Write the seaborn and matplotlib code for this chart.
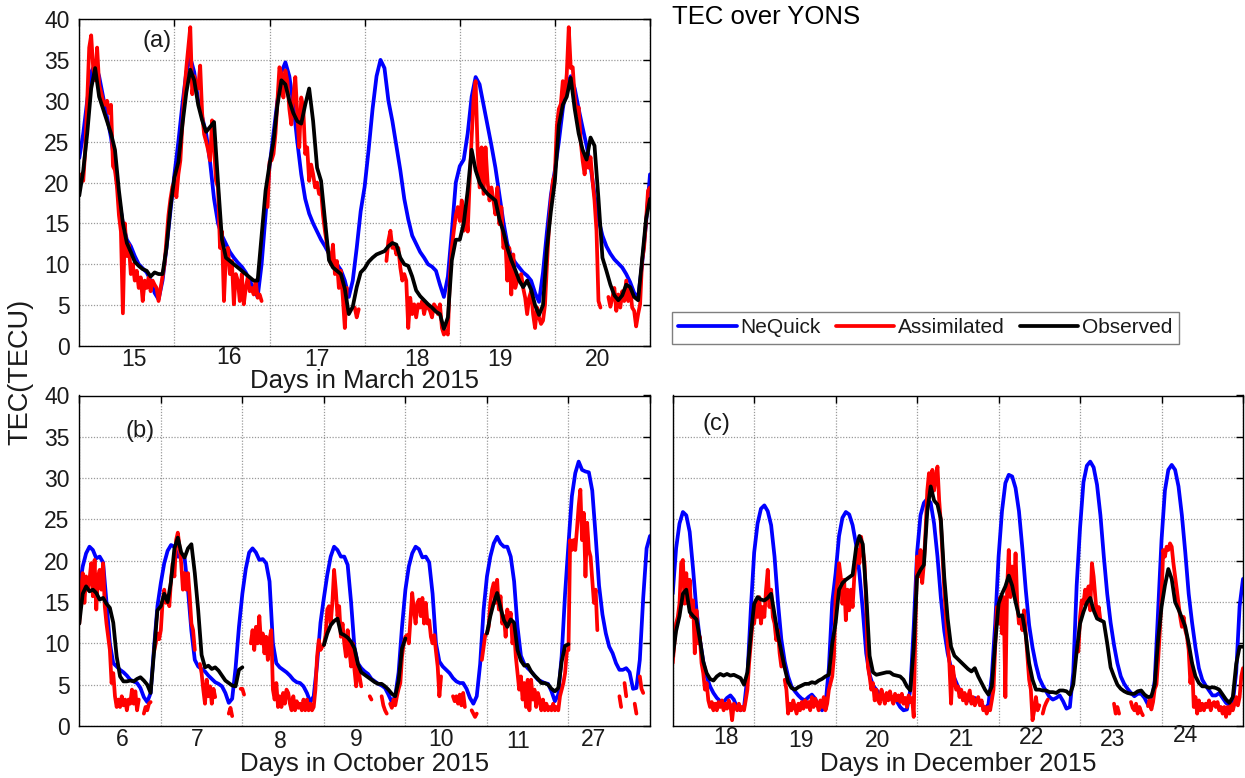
import numpy as np
import pandas as pd
import matplotlib
matplotlib.use("Agg")
import matplotlib.pyplot as plt
import seaborn as sns
from matplotlib.lines import Line2D

nan = np.nan

# ---------------------------------------------------------------- data
# Day labels of the three periods
MAR_DAYS = ["15", "16", "17", "18", "19", "20"]
OCT_DAYS = ["6", "7", "8", "9", "10", "11", "27"]
DEC_DAYS = ["18", "19", "20", "21", "22", "23", "24"]

# NeQuick and observed TEC: hourly values (one row per UT day)
# Assimilated TEC: half-hourly values (one row per UT day), nan = no data

NEQUICK_MAR = [
    [23, 26, 30, 33.5, 34.5, 33, 30.5, 28, 25.5, 22, 18, 15, 13, 12.2, 11, 10, 9.5, 9, 8, 6.5, 5.7, 8, 12, 16.5],
    [21, 25, 29.5, 33.5, 35.3, 33.5, 30, 28, 26, 22.5, 18, 15, 13.5, 12.5, 11.5, 10.8, 10.2, 9.7, 9, 8, 7, 6, 10, 16],
    [22, 26, 30, 33.5, 34.7, 33, 29.5, 25, 21, 18, 16.2, 15, 14, 13, 12.2, 11.3, 10.6, 10, 9.3, 8, 6, 8, 12, 16.5],
    [19.5, 24, 29, 33, 35, 34, 30, 27.5, 24.5, 21.5, 18, 15.5, 13.5, 12.5, 11.5, 10.8, 10, 9.7, 9.2, 7.5, 6, 8.5, 14, 20],
    [22, 22.8, 26, 30.5, 32.9, 32, 29.5, 27, 24.5, 21.8, 18.5, 15.2, 12.5, 11, 10.2, 9.6, 9, 8.6, 8, 6.5, 5.4, 9, 14, 18.5],
    [21.5, 25, 29, 32, 33, 31.5, 29, 26.7, 24.5, 22, 18.5, 15.5, 13.5, 12.2, 11.3, 10.6, 10.1, 9.6, 8.8, 7.8, 6.5, 5.9, 10, 15, 21],
]
OBSERVED_MAR = [
    [18.4, 21.5, 26, 31.5, 34, 30.5, 29, 27.5, 26, 24, 19, 15, 12.6, 11.5, 10.3, 9.8, 9.4, 9.2, 8.5, 9, 8.8, 8.8, 12, 17],
    [20.6, 22.5, 27, 31, 33.8, 32.5, 29.5, 27.6, 26.2, 26.8, 27.4, 20, 13, 10.8, 10.4, 10, 9.6, 9.2, 8.8, 8.4, 8, 8, 13.5, 19],
    [22.2, 25, 29.5, 32.5, 32, 30, 28.5, 27.5, 27.2, 29.5, 31.5, 27.5, 21.8, 20.2, 15.3, 10.5, 9.6, 9.2, 8.8, 7, 3.9, 4.8, 7.2, 9],
    [9.5, 10.3, 10.8, 11.2, 11.4, 11.6, 12.2, 12.6, 12.4, 10.8, 10, 9.8, 8.5, 6.8, 6.1, 5.6, 5.1, 4.7, 4.2, 3.9, 2.1, 3.5, 10.5, 13],
    [13, 15, 19, 24, 21.5, 20, 19.2, 18.6, 18.2, 17.8, 15.5, 14, 12, 10.5, 9.3, 8, 7.2, 8, 6.9, 5, 3.8, 5, 12, 16.5],
    [20.2, 27, 29.5, 30.5, 32.8, 29, 26, 24, 22.8, 25.5, 24.5, 18, 10.8, 9.2, 7.5, 6.2, 5.6, 6.2, 7.5, 7.2, 6, 5.6, 10.5, 15.5, 18],
]
ASSIM_MAR = [
    [19.8, 21, 20.2, 24, 30, 36.5, 38, 34, 32.5, 36.5,
     32, 31, 30, 29.5, 30, 28.5, 29.5, 22, 21.5, 19.5,
     16, 14, 4, 15, 11, 12.4, 8.8, 10, 8, 9.2,
     7.1, 8.4, 5.5, 8, 7.1, 8.4, 6.7, 8, 7.5, 7.1,
     5.5, 7, 8.5, 10, 13, 16, 18, 19.5],
    [20, 18.2, 21, 22.7, 27, 31, 34, 36.5, 39, 30.8,
     33, 32, 31.5, 34.3, 28.4, 25.9, 25, 24, 22.7, 27.6,
     24.3, 20.2, 19.4, 12, 14, 5.5, 11.2, 12, 8.8, 10.4,
     5.1, 8.8, 8, 5.5, 8.8, 5.1, 7.1, 8.4, 6.7, 7.1,
     6.3, 8, 5.9, 6.3, 5.5, nan, nan, 17],
    [22.5, 22.7, 23.5, 26, 30, 34.1, 33.3, 30.4, 33.7, 32.4,
     29, 27.1, 30.4, 32.9, 28.4, 24.3, 30.4, 29.2, 23.5, 24.3,
     20.2, 22.2, 21, 19.4, 20, 18.6, 19, 16, 14, 12.4,
     11.2, 10, 12.4, 8.8, 10.4, 7.1, 9.2, 5.9, 2.2, 7.1,
     nan, nan, nan, 4.7, 3.5, 4.5, nan, nan],
    [nan, nan, nan, nan, nan, nan, nan, nan, nan, nan,
     nan, 10.4, 12.9, 14.1, 12, 12.4, 11.2, 12, 9.6, 8,
     8.8, 8, 2.2, 5.9, 3.9, 5.1, 3.5, 5.1, 4.7, 5.5,
     3.9, 5.1, 4.7, 4.3, 3.5, 5.1, 4.7, 3.9, 5.1, 2.2,
     1.4, 1.8, 1.4, 8.4, 12, 14.1, 16, 17],
    [15.3, 17.8, 14.1, 17, 14, 20.2, 25.5, 30.4, 32.4, 24,
     19.4, 24.3, 18.6, 24.3, 20.2, 17.8, 19.4, 17.8, 16.1, 19.4,
     14.9, 17, 12, 12.9, 8, 12, 6.3, 11.2, 7.1, 8,
     8.4, 8.8, 7.1, 5.9, 3.9, 5.9, 6.7, 3.9, 2.2, 4.7,
     3.5, 2.7, 3.1, 5, 10, 14.5, 17.8, 20.2],
    [21, 27, 29, 29.6, 32.4, 30.4, 33.3, 39, 34, 34.1,
     30.4, 28.4, 29.2, 25.1, 22.7, 21, 23.5, 21.8, 23.1, 20.2,
     17.8, 14.1, 5.5, 4.7, nan, nan, nan, 6, 4.8, 5.9,
     7.1, 4.3, 6.3, 4.7, 6.7, 5.5, 8, 5.5, 7.1, 4.7,
     4.3, 2.4, 3.9, 5.1, 10.4, 12, 15.3, 19, 19.4],
]

NEQUICK_OCT = [
    [16.5, 19.3, 20.9, 21.7, 21.3, 20.3, 20.5, 19.8, 15, 10, 7.6, 7.2, 6.8, 6.5, 6.1, 5.6, 5.4, 5.2, 4.6, 3.5, 2.9, 4, 9.5, 14.5],
    [17.3, 19.7, 21.2, 21.9, 21.7, 20.5, 20.5, 20.3, 16.5, 11.5, 8, 7.2, 6.9, 6.6, 6.1, 5.7, 5.3, 5.1, 4.8, 4, 2.8, 3.3, 7, 12],
    [16, 19, 21, 21.5, 21, 20.1, 20.2, 19.7, 17.5, 10, 7.6, 7.1, 6.8, 6.5, 6.1, 5.6, 5.3, 5.2, 4.8, 4, 2.9, 3.6, 7.5, 12.5],
    [15.5, 18.3, 20.5, 21.7, 21.3, 20.5, 20.5, 19.5, 15, 9.5, 7.6, 7, 6.6, 6.3, 5.7, 5.4, 5.1, 4.9, 4.6, 3.8, 2.9, 3.6, 6.5, 12],
    [16.5, 19.3, 20.9, 21.7, 21.4, 20.4, 20.5, 19.8, 16, 10, 7.8, 7.2, 6.8, 6.4, 5.8, 5.4, 5.2, 5.2, 4.5, 3.4, 2.7, 3.6, 7.5, 14],
    [18.1, 20.5, 22.1, 22.9, 22.1, 21.7, 21.7, 20.5, 17.5, 12, 8.5, 7.5, 7, 6.6, 6.1, 5.6, 5.4, 5.2, 5.1, 4.2, 3, 3.8, 8.5, 16],
    [22, 27.8, 30.6, 32, 31, 30.8, 30.7, 28.5, 23, 17, 13.5, 11.2, 9.6, 8.8, 7.6, 6.8, 6.8, 7, 6.5, 4.5, 4.6, 8, 15.5, 21.5, 23],
]
OBSERVED_OCT = [
    [12.4, 16, 16.9, 16.3, 16.5, 16.1, 15.3, 15.5, 14.8, 14.3, 12.5, 8.4, 6, 5.4, 5.4, 5.5, 5.4, 5.7, 5.9, 5.5, 5, 4, 9, 14],
    [14.5, 16, 15, 17.5, 21.5, 22.8, 21, 20.4, 21.5, 22, 18.5, 14, 8.6, 7.1, 7.3, 6.9, 7.1, 6.7, 6.1, 5.5, 5.2, 4.9, 4.8, 6.8],
    [7.1] + [nan] * 23,
    [9.8, 11.2, 12.2, 12.7, 13, 11.2, 11, 10.7, 10.2, 9.4, 7.5, 6.5, 6.2, 5.9, 5.6, 5.3, 5.1, 5.1, 4.8, 4.4, 3.9, 3.6, 5.5, 9.4],
    [10.6] + [nan] * 23,
    [11.2, 13.3, 14.9, 16.1, 14.3, 12.8, 12, 12.9, 12.5, 9.2, 7.9, 7.3, 7.4, 6.6, 6.1, 5.7, 5.2, 5.2, 5, 4.5, 4.2, 4.6, 7.8, 9.7],
    [9.9] + [nan] * 23,
]
ASSIM_OCT = [
    [12.4, 16.5, 18.5, 14.9, 18.1, 16.5, 17.7, 19.7, 15.7, 20.1,
     14.1, 18.1, 18.9, 16.5, 19.7, 14.5, 12.4, 10.8, 9.2, 5.2,
     6.4, 3.6, 2.3, 3.2, 2.3, 3.6, 2.5, 3.2, 1.9, 3.2,
     2.7, 4.4, 2.7, 4.2, 1.9, 3.2, nan, nan, 1.5, 2.3,
     1.9, 2.7, 2.9, nan, 9, 10, 11.2, 10.5],
    [11.6, 14.9, 16.5, 14.9, 15.7, 14.5, 17.7, 19.7, 18.1, 22.5,
     23.4, 21.7, 19.7, 16.5, 18.5, 16.5, 18.5, 15.7, 12.4, 11.6,
     9.2, nan, nan, 7.5, 6.4, 4.4, 2.7, 5.6, 3.6, 4.8,
     2.7, 4.5, 3.5, nan, nan, nan, nan, nan, nan, nan,
     1.5, 2.2, 1.2, nan, nan, nan, nan, 4.5],
    [4.5, 3.8, nan, nan, nan, 10, 11.6, 9.2, 12, 10,
     13.3, 10, 11.2, 8.8, 10.8, 8, 10.5, 11.6, 4.4, 3.2,
     5.2, 2.3, 3.6, 2.3, 4, 2.7, 4.4, 4, 2.7, 1.9,
     3.6, 1.9, 3, 2.2, 2.7, 1.9, 3.2, 1.9, 3.2, 1.9,
     2.7, 1.9, 2.3, 4.4, 8.4, 10.4, 9.2, 9.6],
    [9.8, 11, 14.1, 14.5, 12.4, 14.9, 18.9, 16.5, 13.3, 14.5,
     10.8, 12.4, 10, 8.4, 11.6, 9.2, 7.2, 10, 6.8, 4.8,
     7.5, 6, 4.8, nan, nan, nan, nan, 3.6, 3.2, nan,
     nan, nan, nan, nan, 3.6, 2.5, 1.9, 1.5, nan, 2.7,
     2.2, 3.2, 2.5, 3.6, 4.5, 5.2, 8.4, 10],
    [10.8, 11, 10, 13, 16.1, 14, 12.4, 14.9, 15.3, 13.3,
     15.5, 12.4, 14.9, 12.4, 12.8, 10.8, 10, 11, 9, 7.2,
     3.6, 6, nan, nan, nan, nan, nan, nan, 3.6, 3,
     3.6, 2.7, 3.8, 2.5, 4, 2.3, nan, nan, nan, 1.9,
     1.5, 1.1, 1.5, nan, nan, 8, 9.5, 11],
    [11.2, 12, 14.9, 16.5, 17.3, 14.9, 17.7, 14.1, 15.7, 12.4,
     13.3, 10.8, 14.1, 12.4, 13.7, 10, 11.6, 8.4, 6.4, 4.4,
     6, 3.2, 5.2, 2.3, 5.6, 1.9, 5.6, 3.2, 4.4, 2.3,
     4, 3.2, 1.9, 3.2, 1.9, 2.7, 1.9, 2.3, 1.9, 2.7,
     1.9, 2.3, 1.9, 3.6, 4.4, 5.2, 6.4, 9],
    [9.2, 22.5, 21.3, 22.5, 21.3, 23.8, 26.6, 28.6, 22.5, 25.8,
     18.1, 24.6, 21.3, 20.5, 17.7, 14.9, 16.5, 11.6, nan, nan,
     nan, nan, nan, nan, nan, nan, nan, nan, nan, nan,
     3.6, 2.3, nan, 5.2, 3.6, nan, nan, nan, nan, 2.7,
     1.5, nan, 6, 4.5, 4, nan, nan, nan],
]

NEQUICK_DEC = [
    [16, 21.5, 24.5, 25.9, 25.5, 23.5, 19, 14, 10.5, 7.8, 6, 4.8, 4, 3.4, 3, 2.9, 3.4, 3.7, 3.2, 2.2, 1.9, 2.2, 6, 14],
    [21, 24.5, 26.3, 26.7, 26, 24.3, 20.5, 15, 10.5, 7.8, 6, 4.8, 4.2, 3.7, 3.3, 3.1, 3.5, 3.8, 3.3, 2.3, 1.9, 2.5, 7, 15],
    [18.5, 23, 25.2, 25.9, 25.6, 24.3, 22, 18.5, 14, 8.8, 6.2, 4.9, 4.4, 3.8, 3.4, 3.2, 3.3, 3.5, 3, 2.3, 1.9, 2, 4.4, 12],
    [21, 25.5, 27, 27.5, 27, 24.5, 20.5, 15.5, 11.5, 8.8, 7, 5.8, 4.8, 4, 3.4, 3.1, 3.1, 3.4, 3.1, 2.6, 2.1, 2.6, 6, 12.4],
    [20.5, 26, 29.4, 30.4, 30.2, 28.8, 26, 21.5, 16.5, 12.2, 9.5, 7.4, 5.8, 4.9, 4.2, 3.5, 3.2, 3.4, 3.7, 3, 2.1, 2.3, 6.5, 17],
    [24, 29.5, 31.5, 32, 31.3, 29.2, 25.5, 20.5, 16, 12.5, 9.8, 7.6, 6, 5.1, 4.5, 4, 3.6, 3.9, 3.9, 3.4, 2.6, 2.8, 5.5, 14],
    [22.5, 28.5, 31, 31.6, 31, 29, 25.5, 21, 16, 12.5, 9.5, 7, 5.6, 4.9, 4.3, 3.7, 3.7, 4, 3.4, 2.8, 2.5, 2.8, 6.5, 14.5, 17.8],
]
OBSERVED_DEC = [
    [8.4, 11.5, 13.3, 16, 16.5, 13.8, 13.3, 12.9, 10.5, 7.8, 6.4, 5.7, 5.5, 6, 6.3, 6.1, 6.3, 6.1, 6.2, 6, 5.8, 5, 6.5, 11],
    [14.8, 15.6, 15.3, 15.2, 15.5, 16, 13.5, 11, 9, 7, 5.3, 4.6, 4.4, 4.7, 4.9, 5.1, 5.1, 5.3, 5.2, 5.5, 5.7, 6, 6.2, 10],
    [12.5, 16.5, 17.3, 17.7, 18, 18.3, 21.5, 23, 22, 16, 8.5, 6.5, 6.2, 6.3, 6.4, 6.5, 6.5, 6.2, 6.1, 6, 5.6, 4.8, 4.3, 9.5],
    [18.1, 18.9, 19.5, 26, 29, 27.3, 26.8, 25, 18, 13, 9.6, 8.5, 8.1, 7.7, 7.3, 6.9, 6.6, 7, 6, 5.2, 4.4, 3.8, 4.8, 10],
    [14.8, 16, 16.9, 18.2, 17, 15, 13.3, 13.4, 11, 7.6, 5.6, 4.4, 4.4, 4.3, 4.3, 4.1, 4.1, 4, 4.3, 4.3, 4.2, 3.8, 5, 9],
    [12.4, 13.8, 14.9, 15.5, 14, 13, 12.8, 12.6, 10, 7.1, 6, 5, 4.5, 4.2, 4, 3.9, 3.9, 4.2, 4.3, 3.8, 3.5, 3.6, 5, 10.5],
    [14.4, 17, 19, 17.8, 15, 14.1, 13.1, 12, 10, 7.6, 6, 5.2, 4.8, 4.8, 4.6, 4.7, 4.6, 4.4, 3.8, 3.2, 2.8, 3.5, 7.5, 9.6, 9.6],
]
ASSIM_DEC = [
    [7.6, 10, 12.4, 13.2, 14.8, 19.7, 20.1, 14.8, 18.5, 14.8,
     17.7, 13.2, 15.2, 8.8, 14, 10, 10.8, 7.6, 6.4, 4.4,
     5.2, 3.1, 2.3, 2.9, 1.9, 2.7, 1.9, 2.9, 2.3, 3.1,
     1.9, 2.7, 2.1, 3.1, 2.5, 0.7, 2.7, 2.3, 1.9, 2.7,
     1.9, 2.3, 1.9, 3.1, 4.4, 7.6, 10, 12.4],
    [12.4, 14.8, 13.2, 15.6, 12.4, 14.4, 13.2, 16.5, 18.9, 14.4,
     16.5, 13.2, 12.4, 10.4, 11.6, 8.8, 7.2, nan, 5.6, 4.4,
     1.5, 2.7, 1.9, 3.1, 2.3, 1.5, 2.7, 1.9, 2.9, 2.1,
     3.1, 2.3, 2.9, 1.9, 3.5, 2.3, 3.3, 2.7, 1.9, 3.1,
     2.3, 3.5, 1.9, 2.7, 4.4, 5.2, 6, 8.4],
    [15.6, 17.3, 19.7, 18.1, 14.8, 17.7, 12.8, 16.5, 14, 16.5,
     14.4, 18.1, 20.1, 21.3, 19.7, 22.9, 21.3, 19.7, 14.8, 7.2,
     6, 4.4, 5.2, 3.1, 4.4, 3.1, 2.7, 4.4, 3.5, 2.7,
     4, 3.1, 4.2, 3.3, 2.7, 3.9, 3.1, 3.7, 2.9, 3.9,
     2.7, 3.4, 2.3, 3.7, 2.9, 3.4, 1.1, 12],
    [20.5, 18.1, 21.3, 17.3, 19.7, 23.7, 28.5, 30.6, 29, 31,
     28.5, 30.2, 31.4, 27.3, 24.5, 20.5, 16.5, 13.2, 10, 7.6,
     2.7, 7.2, 5.6, 4.4, 4.8, 3.5, 4.4, 3.1, 4, 2.7,
     3.5, 4.3, 2.7, 3.5, 2.5, 3.1, 3.5, 2.5, 3.1, 1.9,
     2.3, 1.5, 2.3, 1.9, 3.1, 4.4, 9.6, 14.4],
    [12.4, 15.6, 11.2, 15.6, 3.5, 16.5, 21.3, 15.6, 19.3, 16,
     20.9, 14.8, 12.4, 13.2, 11.6, 14, 11.2, 8.4, 5.6, 4.4,
     0.7, 1.9, 3.5, 1.9, 2.5, nan, 1.5, 2.3, 2.8, 3.2,
     nan, nan, nan, nan, nan, nan, nan, nan, nan, nan,
     nan, nan, nan, nan, nan, nan, nan, 9],
    [13.2, 15.2, 14.8, 16.5, 15.2, 16.9, 14, 19.7, 18.1, 15.6,
     13.2, 14.4, 12.8, nan, nan, nan, nan, nan, nan, nan,
     2.7, 1.5, 2.3, 1.5, nan, nan, nan, nan, nan, nan,
     2.9, 2.2, 1.9, 2.7, 1.5, 2.3, 1.7, 1.3, nan, nan,
     2.4, 3.2, 2, 2.9, 4.5, 5, 8, 11.5],
    [15.6, 21.3, 20.5, 21.7, 21.3, 22.1, 21.7, 19.7, 18.1, 16.5,
     14.8, 13.2, 12, 13.2, 11.6, 10.8, 9.2, 5.2, 7.6, 2.3,
     3.5, 1.5, 3.1, 1.9, 2.7, 1.9, 2.7, 2.3, 3.1, 1.9,
     2.7, 2.9, 2.3, 2.9, 1.9, 2.3, 1.5, 2.3, 1.1, 2.3,
     1.5, 2.7, 1.9, 2.7, 3.5, 2.5, 3.5, 6, 7],
]

SERIES = ["NeQuick", "Assimilated", "Observed"]
COLORS = {"NeQuick": "#0000ff", "Assimilated": "#ff0000", "Observed": "#000000"}

# ---------------------------------------------------------------- style
sns.set_theme(style="white", rc={
    "axes.edgecolor": "#000000",
    "axes.linewidth": 1.0,
    "xtick.color": "#000000",
    "ytick.color": "#000000",
    "text.color": "#1a1a1a",
    "axes.labelcolor": "#1a1a1a",
})
plt.rcParams["font.family"] = ["Liberation Sans", "DejaVu Sans"]

W, H = 1245, 778
LW = 2.7
TICK_FS = 16.5
LABEL_FS = 18.5


def to_frame(rows, per_day):
    days, tec = [], []
    for d, row in enumerate(rows):
        for k, v in enumerate(row):
            days.append(d + k / per_day)
            tec.append(v)
    df = pd.DataFrame({"day": days, "tec": tec})
    df["seg"] = df["tec"].isna().cumsum()
    return df.dropna()


def draw_series(ax, rows, per_day, color):
    df = to_frame(rows, per_day)
    sns.lineplot(data=df, x="day", y="tec", units="seg", estimator=None,
                 color=color, linewidth=LW, ax=ax, legend=False)


def style_axes(ax, ndays, show_y):
    ax.set_xlim(0, ndays)
    ax.set_ylim(0, 40)
    ax.set_xticks(np.arange(ndays + 1))
    ax.set_xticklabels([])
    ax.set_yticks(np.arange(0, 41, 5))
    ax.set_xlabel("")
    ax.set_ylabel("")
    ax.set_axisbelow(True)
    ax.grid(True, linestyle=(0, (1, 1.3)), linewidth=0.9, color="#9a9a9a")
    ax.tick_params(axis="both", direction="in", top=True, right=True,
                   length=5, width=1.0, labelsize=TICK_FS, pad=7,
                   labelcolor="#1a1a1a")
    if not show_y:
        ax.tick_params(axis="y", labelleft=False)
    for s in ax.spines.values():
        s.set_visible(True)
        s.set_color("#000000")
        s.set_linewidth(1.0)


def day_labels(ax, labels, centers, drops, xlabel, xlabel_drop):
    for lab, c, dy in zip(labels, centers, drops):
        ax.annotate(lab, xy=(c, 0), xycoords=("data", "axes fraction"),
                    xytext=(0, -dy * 0.72), textcoords="offset points",
                    ha="center", va="baseline", fontsize=TICK_FS,
                    color="#1a1a1a")
    ax.annotate(xlabel, xy=(0.5, 0), xycoords="axes fraction",
                xytext=(0, -xlabel_drop * 0.72), textcoords="offset points",
                ha="center", va="baseline", fontsize=LABEL_FS, color="#1a1a1a")


fig = plt.figure(figsize=(W / 100, H / 100), dpi=100)
fig.patch.set_facecolor("white")

ax_a = fig.add_axes([79.3 / W, 1 - 346 / H, (650 - 79.3) / W, (346 - 19) / H])
ax_b = fig.add_axes([79.3 / W, 1 - 726 / H, (650 - 79.3) / W, (726 - 395.5) / H])
ax_c = fig.add_axes([672.7 / W, 1 - 726 / H, (1243 - 672.7) / W, (726 - 395.5) / H])

panels = [
    (ax_a, NEQUICK_MAR, ASSIM_MAR, OBSERVED_MAR, MAR_DAYS, True),
    (ax_b, NEQUICK_OCT, ASSIM_OCT, OBSERVED_OCT, OCT_DAYS, True),
    (ax_c, NEQUICK_DEC, ASSIM_DEC, OBSERVED_DEC, DEC_DAYS, False),
]
for ax, neq, asm, obs, days, show_y in panels:
    draw_series(ax, neq, 24, COLORS["NeQuick"])
    draw_series(ax, asm, 48, COLORS["Assimilated"])
    draw_series(ax, obs, 24, COLORS["Observed"])
    style_axes(ax, len(days), show_y)

day_labels(ax_a, MAR_DAYS, [0.58, 1.57, 2.5, 3.55, 4.42, 5.45],
           [20, 18, 20, 20, 20, 20], "Days in March 2015", 42)
day_labels(ax_b, OCT_DAYS, [0.53, 1.45, 2.47, 3.40, 4.44, 5.38, 6.31],
           [20, 20, 21.5, 20, 20, 21.5, 20], "Days in October 2015", 45)
day_labels(ax_c, DEC_DAYS, [0.65, 1.58, 2.51, 3.54, 4.41, 5.40, 6.30],
           [18, 21, 21, 20, 18, 20, 16], "Days in December 2015", 45)

ax_a.text(0.82, 37.3, "(a)", fontsize=17, ha="center", va="center", color="#1a1a1a")
ax_b.text(0.745, 35.7, "(b)", fontsize=17, ha="center", va="center", color="#1a1a1a")
ax_c.text(0.54, 36.5, "(c)", fontsize=17, ha="center", va="center", color="#1a1a1a")

fig.text(20 / W, 1 - 372 / H, "TEC(TECU)", rotation=90, fontsize=19.5,
         ha="center", va="center", color="#1a1a1a")
fig.text(672 / W, 1 - 23.5 / H, "TEC over YONS", fontsize=18.5,
         ha="left", va="baseline", color="#000000")

handles = [Line2D([0], [0], color=COLORS[s], lw=LW) for s in SERIES]
leg = fig.legend(handles, SERIES, loc="upper left",
                 bbox_to_anchor=(672 / W, 1 - 312 / H), ncol=3, fontsize=15,
                 frameon=True, fancybox=False, framealpha=1,
                 edgecolor="#7f7f7f", handlelength=2.8, handletextpad=0.2,
                 columnspacing=0.7, borderpad=0.3, borderaxespad=0)
leg.get_frame().set_linewidth(1.0)

fig.savefig("out.png", dpi=100, facecolor="white")
